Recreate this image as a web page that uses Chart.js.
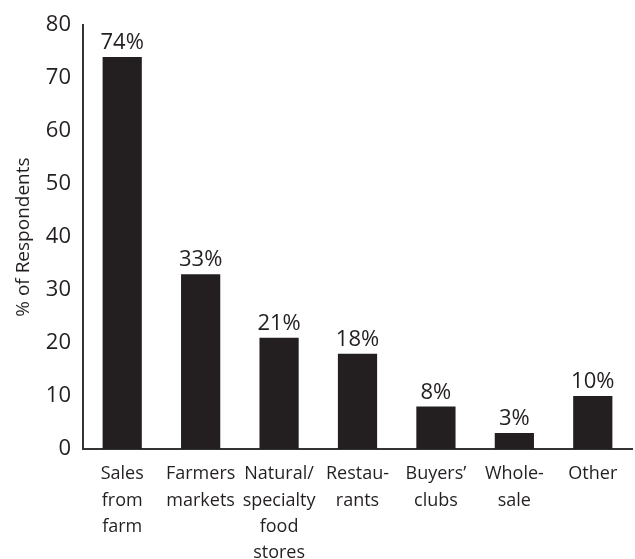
<!DOCTYPE html>
<html>
<head>
<meta charset="utf-8">
<script src="https://cdn.jsdelivr.net/npm/chart.js@4"></script>
<style>
  html, body { margin: 0; padding: 0; background: #ffffff; }
  #wrap { width: 635px; height: 559px; position: relative; }
</style>
</head>
<body>
<div id="wrap"><canvas id="chart"></canvas></div>
<script>
const categories = [
  ["Sales", "from", "farm"],
  ["Farmers", "markets"],
  ["Natural/", "specialty", "food", "stores"],
  ["Restau-", "rants"],
  ["Buyers\u2019", "clubs"],
  ["Whole-", "sale"],
  ["Other"],
];
const respondents = [74, 33, 21, 18, 8, 3, 10];
const yTicks = [0, 10, 20, 30, 40, 50, 60, 70, 80];

const ink = "#231f20";
const fontFamily = "'Open Sans', 'Noto Sans', sans-serif";

// percentage labels sitting above each bar
const barLabels = {
  id: "barLabels",
  afterDatasetsDraw(chart) {
    const { ctx } = chart;
    const meta = chart.getDatasetMeta(0);
    ctx.save();
    ctx.fillStyle = ink;
    ctx.font = `22px ${fontFamily}`;
    ctx.textAlign = "center";
    ctx.textBaseline = "bottom";
    meta.data.forEach((bar, i) => {
      ctx.fillText(respondents[i] + "%", bar.x, bar.y - 3);
    });
    ctx.restore();
  },
};

new Chart(document.getElementById("chart"), {
  type: "bar",
  data: {
    labels: categories,
    datasets: [
      {
        data: respondents,
        backgroundColor: ink,
        barPercentage: 0.5,
        categoryPercentage: 1,
      },
    ],
  },
  options: {
    responsive: true,
    maintainAspectRatio: false,
    animation: false,
    layout: { padding: { top: 12, right: 3, left: 0, bottom: 0 } },
    plugins: {
      legend: { display: false },
      tooltip: { enabled: false },
    },
    scales: {
      x: {
        grid: { display: false, drawTicks: false },
        border: { color: "#333333", width: 2 },
        afterFit(scale) {
          scale.height = 110;
        },
        ticks: {
          color: ink,
          padding: 12,
          maxRotation: 0,
          autoSkip: false,
          font: { family: fontFamily, size: 18, lineHeight: 1.46 },
        },
      },
      y: {
        min: 0,
        max: 80,
        afterBuildTicks(scale) {
          scale.ticks = yTicks.map((v) => ({ value: v }));
        },
        afterFit(scale) {
          scale.width = 83;
        },
        grid: { display: false, drawTicks: false },
        border: { color: "#333333", width: 2 },
        ticks: {
          color: ink,
          padding: 12,
          font: { family: fontFamily, size: 22 },
        },
        title: {
          display: true,
          text: "% of Respondents",
          color: ink,
          padding: { top: 12, bottom: 0 },
          font: { family: fontFamily, size: 19 },
        },
      },
    },
  },
  plugins: [barLabels],
});
</script>
</body>
</html>
